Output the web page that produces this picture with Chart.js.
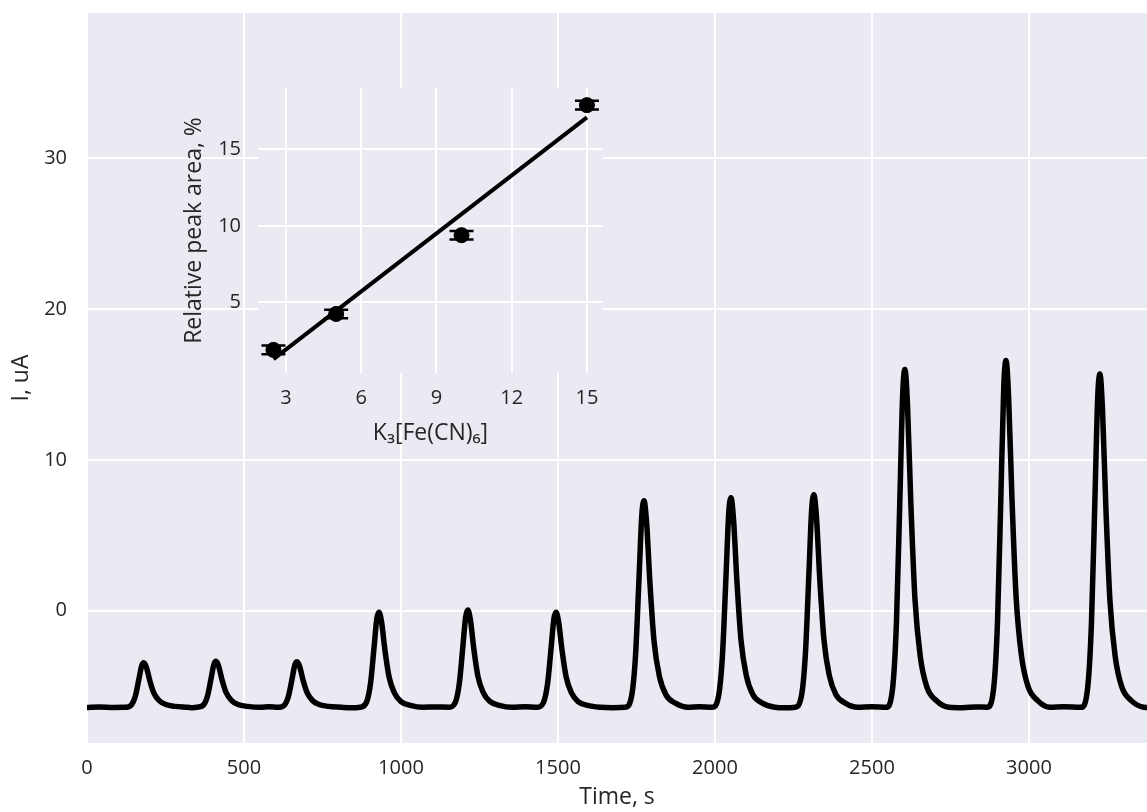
<!DOCTYPE html>
<html>
<head>
<meta charset="utf-8">
<script src="https://cdn.jsdelivr.net/npm/chart.js@4.4.0/dist/chart.umd.min.js"></script>
<style>
  body { margin: 0; background: #fff; }
  #wrap { position: relative; width: 1147px; height: 812px; }
  #main { position: absolute; left: 0; top: 0; }
  #inset { position: absolute; left: 150px; top: 70px; }
</style>
</head>
<body>
<div id="wrap">
  <canvas id="main" width="1147" height="812"></canvas>
  <canvas id="inset" width="470" height="390"></canvas>
</div>
<script>
// Main trace
const timeS = [
  0, 40, 85,
  121, 141, 154, 165, 174, 181, 189, 200, 213, 230, 251, 281, 321,
  336,
  351, 371, 384, 395, 404, 411, 419, 430, 443, 460, 481, 511, 551,
  580,
  609, 629, 642, 653, 662, 669, 677, 688, 701, 718, 739, 769, 809,
  840,
  870, 890, 903, 914, 923, 930, 938, 949, 962, 979, 1000, 1030, 1070,
  1110,
  1153, 1173, 1186, 1197, 1206, 1213, 1221, 1232, 1245, 1262, 1283, 1313, 1353,
  1395,
  1434, 1454, 1467, 1478, 1487, 1494, 1502, 1513, 1526, 1543, 1564, 1594, 1634,
  1675,
  1714, 1734, 1747, 1758, 1767, 1774, 1782, 1793, 1806, 1823, 1844, 1874, 1914,
  1950,
  1991, 2011, 2024, 2035, 2044, 2051, 2059, 2070, 2083, 2100, 2121, 2151, 2191,
  2225,
  2255, 2275, 2288, 2299, 2308, 2315, 2323, 2334, 2347, 2364, 2385, 2415, 2455,
  2500,
  2545, 2565, 2578, 2589, 2598, 2605, 2613, 2624, 2637, 2654, 2675, 2705, 2745,
  2790, 2830,
  2867, 2887, 2900, 2911, 2920, 2927, 2935, 2946, 2959, 2976, 2997, 3027, 3067,
  3110,
  3166, 3186, 3199, 3210, 3219, 3226, 3234, 3245, 3258, 3275, 3296, 3326, 3366,
  3376
];
const currentUA = [
  -6.42, -6.38, -6.41,
  -6.4, -6.25, -5.66, -4.57, -3.66, -3.45, -3.74, -4.63, -5.46, -5.96, -6.22, -6.34, -6.4,
  -6.43,
  -6.4, -6.25, -5.64, -4.51, -3.56, -3.35, -3.65, -4.57, -5.42, -5.94, -6.22, -6.34, -6.4,
  -6.37,
  -6.4, -6.25, -5.64, -4.53, -3.59, -3.38, -3.68, -4.59, -5.43, -5.95, -6.22, -6.34, -6.4,
  -6.44,
  -6.4, -6.08, -4.82, -2.49, -0.54, -0.1, -0.73, -2.62, -4.38, -5.45, -6.02, -6.27, -6.4,
  -6.38,
  -6.4, -6.08, -4.79, -2.4, -0.4, 0.05, -0.59, -2.53, -4.34, -5.43, -6.01, -6.27, -6.4,
  -6.36,
  -6.4, -6.08, -4.82, -2.49, -0.54, -0.1, -0.73, -2.62, -4.38, -5.45, -6.02, -6.27, -6.4,
  -6.43,
  -6.4, -5.71, -2.97, 2.09, 6.34, 7.3, 5.93, 1.82, -2.02, -4.34, -5.58, -6.13, -6.4,
  -6.37,
  -6.4, -5.7, -2.92, 2.22, 6.53, 7.5, 6.11, 1.94, -1.95, -4.31, -5.57, -6.12, -6.4,
  -6.44,
  -6.4, -5.69, -2.87, 2.34, 6.71, 7.7, 6.29, 2.06, -1.89, -4.28, -5.55, -6.12, -6.4,
  -6.36,
  -6.4, -5.28, -0.8, 7.49, 14.43, 16.0, 13.76, 7.04, 0.77, -3.04, -5.06, -5.95, -6.4,
  -6.43, -6.38,
  -6.4, -5.25, -0.65, 7.86, 14.99, 16.6, 14.3, 7.4, 0.96, -2.95, -5.02, -5.94, -6.4,
  -6.37,
  -6.4, -5.29, -0.87, 7.3, 14.15, 15.7, 13.49, 6.86, 0.67, -3.08, -5.07, -5.96, -6.4,
  -6.41
];
const timeTicks = [0, 500, 1000, 1500, 2000, 2500, 3000];
const currentTicks = [0, 10, 20, 30];

// Inset: calibration
const conc = [2.5, 5, 10, 15];
const peakArea = [1.9, 4.25, 9.4, 17.9];
const peakAreaErr = [0.28, 0.28, 0.28, 0.28];
const fitConc = [2.5, 15];
const fitArea = [1.3, 17.1];
const concTicks = [3, 6, 9, 12, 15];
const areaTicks = [5, 10, 15];

const FONT = '"Open Sans", "DejaVu Sans", sans-serif';
const TEXT = '#262626';
const BG = '#eaeaf2';

// Fills the plot area like the seaborn darkgrid background
const bgPlugin = {
  id: 'bg',
  beforeDraw(chart) {
    const { ctx, chartArea: a } = chart;
    ctx.save();
    ctx.fillStyle = BG;
    ctx.fillRect(a.left, a.top, a.right - a.left, a.bottom - a.top);
    ctx.restore();
  }
};

// Vertical error bars with wide caps
const errPlugin = {
  id: 'err',
  afterDatasetsDraw(chart) {
    const { ctx, scales } = chart;
    ctx.save();
    ctx.strokeStyle = '#000';
    ctx.lineWidth = 2.5;
    conc.forEach((c, i) => {
      const x = scales.x.getPixelForValue(c);
      const y1 = scales.y.getPixelForValue(peakArea[i] - peakAreaErr[i]);
      const y2 = scales.y.getPixelForValue(peakArea[i] + peakAreaErr[i]);
      ctx.beginPath();
      ctx.moveTo(x, y1); ctx.lineTo(x, y2);
      ctx.moveTo(x - 12, y1); ctx.lineTo(x + 12, y1);
      ctx.moveTo(x - 12, y2); ctx.lineTo(x + 12, y2);
      ctx.stroke();
    });
    ctx.restore();
  }
};

// Fixed axis box sizes, no extra label padding
function fixBox(size) {
  return (axis) => {
    if (axis.isHorizontal()) axis.height = size; else axis.width = size;
    axis.paddingTop = 0; axis.paddingBottom = 0;
    axis.paddingLeft = 0; axis.paddingRight = 0;
  };
}

const gridOpts = { color: '#ffffff', lineWidth: 2, drawTicks: false };
const tickFont = { family: FONT, size: 20 };
const titleFont = { family: FONT, size: 23 };

new Chart(document.getElementById('main'), {
  type: 'line',
  data: {
    datasets: [{
      data: timeS.map((t, i) => ({ x: t, y: currentUA[i] })),
      borderColor: '#000',
      borderWidth: 5.5,
      pointRadius: 0,
      cubicInterpolationMode: 'monotone',
      borderJoinStyle: 'round',
      borderCapStyle: 'round'
    }]
  },
  options: {
    responsive: false,
    animation: false,
    layout: { padding: { top: 13, right: 0, bottom: 0, left: 0 } },
    plugins: { legend: { display: false }, tooltip: { enabled: false } },
    scales: {
      x: {
        type: 'linear',
        min: 0,
        max: 3376,
        afterBuildTicks: (axis) => { axis.ticks = timeTicks.map(v => ({ value: v })); },
        afterFit: fixBox(69),
        grid: gridOpts,
        border: { display: false },
        ticks: { color: TEXT, font: tickFont, padding: 13, maxRotation: 0, autoSkip: false, callback: (v) => String(v) },
        title: { display: true, text: 'Time, s', color: TEXT, font: titleFont, padding: { top: 0, bottom: 1 } }
      },
      y: {
        min: -8.77,
        max: 39.65,
        afterBuildTicks: (axis) => { axis.ticks = currentTicks.map(v => ({ value: v })); },
        afterFit: fixBox(87),
        grid: gridOpts,
        border: { display: false },
        ticks: { color: TEXT, font: tickFont, padding: 20, callback: (v) => String(v) },
        title: { display: true, text: 'I, uA', color: TEXT, font: titleFont, padding: { top: 8, bottom: 0 } }
      }
    }
  },
  plugins: [bgPlugin]
});

new Chart(document.getElementById('inset'), {
  type: 'scatter',
  data: {
    datasets: [
      {
        type: 'line',
        data: fitConc.map((c, i) => ({ x: c, y: fitArea[i] })),
        borderColor: '#000',
        borderWidth: 4,
        pointRadius: 0
      },
      {
        data: conc.map((c, i) => ({ x: c, y: peakArea[i] })),
        backgroundColor: '#000',
        borderColor: '#000',
        pointRadius: 7.5
      }
    ]
  },
  options: {
    responsive: false,
    animation: false,
    layout: { padding: { top: 18, right: 17, bottom: 0, left: 0 } },
    plugins: { legend: { display: false }, tooltip: { enabled: false } },
    scales: {
      x: {
        type: 'linear',
        min: 1.884,
        max: 15.64,
        afterBuildTicks: (axis) => { axis.ticks = concTicks.map(v => ({ value: v })); },
        afterFit: fixBox(87),
        grid: gridOpts,
        border: { display: false },
        ticks: { color: TEXT, font: tickFont, padding: 13, maxRotation: 0, autoSkip: false, callback: (v) => String(v) },
        title: { display: true, text: 'K₃[Fe(CN)₆]', color: TEXT, font: titleFont, padding: { top: 0, bottom: 13 } }
      },
      y: {
        min: 0.39,
        max: 19.02,
        afterBuildTicks: (axis) => { axis.ticks = areaTicks.map(v => ({ value: v })); },
        afterFit: fixBox(108),
        grid: gridOpts,
        border: { display: false },
        ticks: { color: TEXT, font: tickFont, padding: 17, callback: (v) => String(v) },
        title: { display: true, text: 'Relative peak area, %', color: TEXT, font: titleFont, padding: { top: 31, bottom: 0 } }
      }
    }
  },
  plugins: [bgPlugin, errPlugin]
});
</script>
</body>
</html>
